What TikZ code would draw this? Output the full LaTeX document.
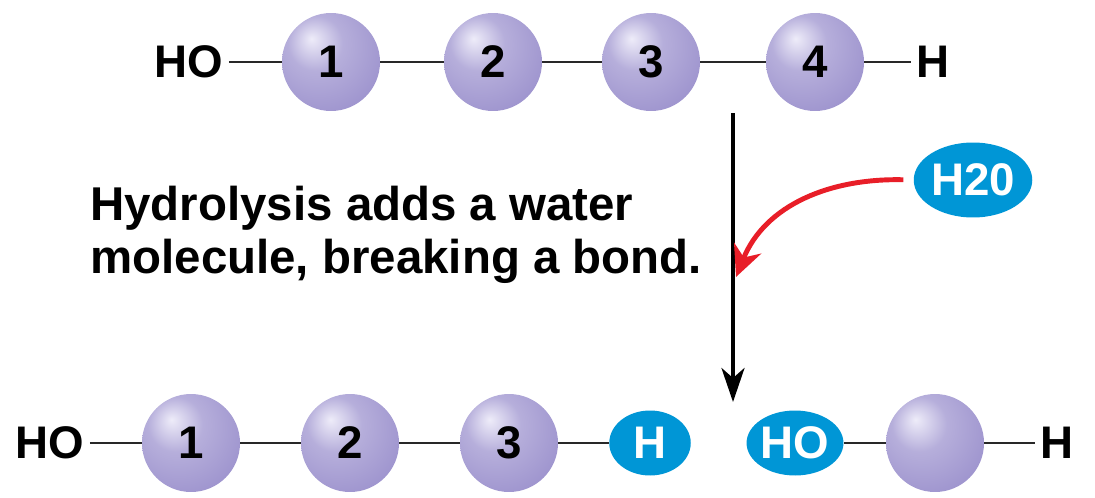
\documentclass[tikz,border=0pt]{standalone}
\usepackage{fontspec}
\setmainfont{Liberation Sans}
\usepackage{tikz}
\usetikzlibrary{shapes.geometric, arrows.meta}
\definecolor{balllight}{RGB}{238,236,249}
\definecolor{ballmid}{RGB}{158,148,206}
\definecolor{balldark}{RGB}{126,116,184}
\definecolor{myblue}{RGB}{0,150,214}
\definecolor{myred}{RGB}{232,30,40}
\definecolor{mydark}{RGB}{40,40,40}
\pgfdeclareradialshading{molball}{\pgfpoint{-10bp}{12bp}}{%
  color(0bp)=(balllight); color(14bp)=(ballmid!70!balllight);
  color(34bp)=(ballmid); color(52bp)=(balldark); color(70bp)=(balldark)}
\tikzset{
  monomer/.style={circle, shading=molball, minimum size=1.96cm, inner sep=0pt,
    font=\fontsize{26pt}{28pt}\selectfont\bfseries},
  groupcap/.style={ellipse, fill=myblue, text=white, minimum width=1.63cm,
    minimum height=1.3cm, inner sep=0pt, font=\fontsize{26pt}{28pt}\selectfont\bfseries},
  endgroup/.style={inner sep=3pt, font=\fontsize{26pt}{28pt}\selectfont\bfseries},
  bond/.style={line width=1.2pt, color=mydark},
  arrow/.style={-{Stealth[length=0.68cm, width=0.46cm, inset=0.2cm]}, line width=2.3pt, color=black},
  redarrow/.style={-{Stealth[length=0.62cm, width=0.58cm, inset=0.2cm]}, line width=2.8pt, color=myred}
}
\begin{document}
\begin{tikzpicture}[x=0.02cm, y=-0.02cm]
  \useasboundingbox (0,0) rectangle (1095,497);

  % Polymer
  \node[endgroup] (ho1) at (189,62) {HO};
  \node[monomer] (p1) at (331,62) {1};
  \node[monomer] (p2) at (493,62) {2};
  \node[monomer] (p3) at (651,62) {3};
  \node[monomer] (p4) at (815,62) {4};
  \node[endgroup] (h1) at (933,62) {H};
  \draw[bond] (ho1) -- (p1) -- (p2) -- (p3) -- (p4) -- (h1);

  % Reaction arrow
  \coordinate (rtop) at (733,113);
  \coordinate (rbot) at (733,402);
  \draw[arrow] (rtop) -- (rbot);

  % Water
  \node[ellipse, fill=myblue, text=white, minimum width=2.12cm, minimum height=1.5cm,
    inner sep=0pt, font=\fontsize{26pt}{28pt}\selectfont\bfseries] (water) at (973,180) {H20};
  \coordinate (wtip) at (736,277);
  \draw[redarrow, shorten <=0.2cm] (water.west) .. controls (830,178) and (765,205) .. (wtip);

  \node[anchor=west, align=left, inner sep=0pt,
    font=\fontsize{27pt}{30pt}\selectfont\bfseries] (note) at (90,235)
    {Hydrolysis adds a water\\molecule, breaking a bond.};

  % Products
  \node[endgroup] (ho2) at (50,443) {HO};
  \node[monomer] (q1) at (191,443) {1};
  \node[monomer] (q2) at (350,443) {2};
  \node[monomer] (q3) at (509,443) {3};
  \node[groupcap] (hcap) at (650,443) {H};
  \draw[bond] (ho2) -- (q1) -- (q2) -- (q3) -- (hcap);

  \node[groupcap] (hocap) at (795,443) {HO};
  \node[monomer] (q4) at (935,443) {};
  \node[endgroup] (h2) at (1057,443) {H};
  \draw[bond] (hocap) -- (q4) -- (h2);
\end{tikzpicture}
\end{document}
